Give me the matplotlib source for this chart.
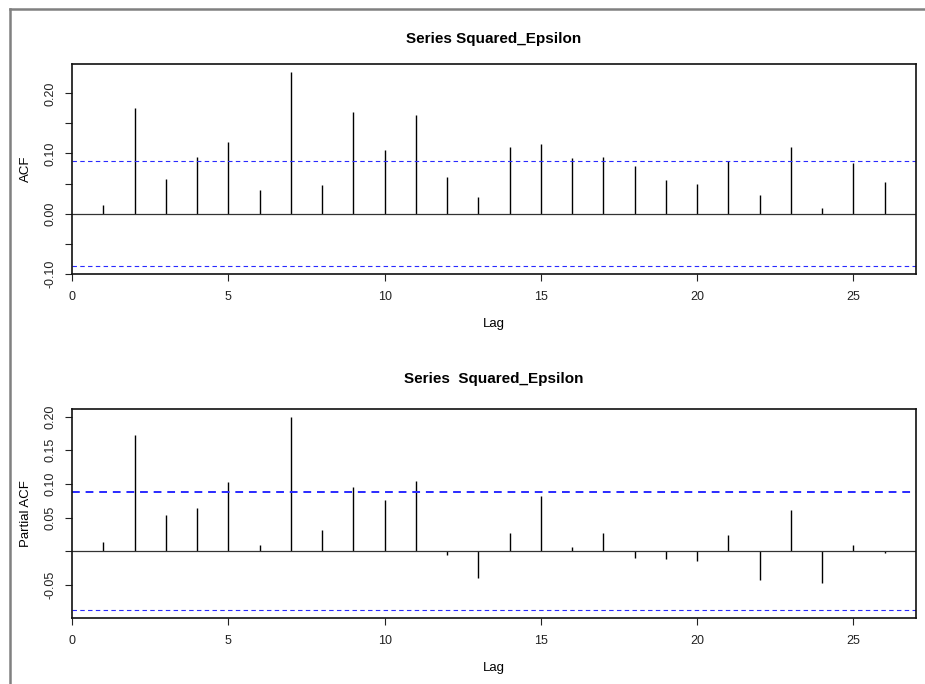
import numpy as np
import matplotlib
matplotlib.use('Agg')
import matplotlib.pyplot as plt
from matplotlib.lines import Line2D

plt.rcParams['font.family'] = ['Liberation Sans', 'DejaVu Sans']

# values
lags = list(range(1, 27))
acf_vals = [0.014, 0.176, 0.058, 0.094, 0.119, 0.039, 0.236, 0.048, 0.169, 0.106,
            0.164, 0.061, 0.028, 0.111, 0.116, 0.093, 0.094, 0.079, 0.056, 0.049,
            0.088, 0.031, 0.111, 0.009, 0.084, 0.052]
pacf_vals = [0.014, 0.173, 0.054, 0.065, 0.103, 0.009, 0.200, 0.031, 0.096, 0.076,
             0.105, -0.005, -0.039, 0.027, 0.082, 0.006, 0.027, -0.010, -0.012, -0.014,
             0.024, -0.042, 0.062, -0.047, 0.009, -0.003]
conf_bound = 0.0877

titles = ['Series Squared_Epsilon', 'Series  Squared_Epsilon']
ylabels = ['ACF', 'Partial ACF']
ytick_pos = [[-0.10, -0.05, 0.00, 0.05, 0.10, 0.15, 0.20],
             [-0.05, 0.00, 0.05, 0.10, 0.15, 0.20]]
ytick_lab = [['-0.10', '', '0.00', '', '0.10', '', '0.20'],
             ['-0.05', '', '0.05', '0.10', '0.15', '0.20']]
xtick_pos = [0, 5, 10, 15, 20, 25]

fig = plt.figure(figsize=(9.25, 6.84), dpi=100)

# axes rectangles in pixels: left, top, right, bottom
boxes = [(72, 64, 916, 274), (72, 409, 916, 618)]
W, H = 925, 684

for i, vals in enumerate([acf_vals, pacf_vals]):
    l, t, r, b = boxes[i]
    ax = fig.add_axes([l / W, 1 - b / H, (r - l) / W, (b - t) / H])
    # R style limits: 4% expansion
    lo = min(-conf_bound, min(vals))
    hi = max(conf_bound, max(vals))
    pad = (hi - lo) * 0.04
    ax.set_ylim(lo - pad, hi + pad)
    ax.set_xlim(0, 27)

    ax.vlines(lags, 0, vals, color='black', lw=1.0)
    ax.axhline(0, color='#333333', lw=0.9)
    up_lw = 0.8 if i == 0 else 1.4
    ax.axhline(conf_bound, color='#2a2aff', lw=up_lw, ls=(0, (4, 3)))
    ax.axhline(-conf_bound, color='#2a2aff', lw=0.8, ls=(0, (4, 3)))

    ax.set_xticks(xtick_pos)
    ax.set_yticks(ytick_pos[i])
    ax.set_yticklabels(ytick_lab[i], rotation=90, va='center')
    ax.tick_params(axis='both', length=5, width=0.8, labelsize=9,
                   colors='#222222')
    ax.tick_params(axis='y', pad=6)
    ax.tick_params(axis='x', pad=7)
    for s in ax.spines.values():
        s.set_linewidth(1.2)
        s.set_color('#111111')

    ax.set_title(titles[i], fontsize=11, fontweight='bold', pad=15 if i == 0 else 19)
    ax.set_xlabel('Lag', fontsize=9.5, labelpad=11)
    ax.set_ylabel(ylabels[i], fontsize=9.5, labelpad=9)

# gray frame of the screenshot
fig.add_artist(Line2D([10 / W, 10 / W], [0, 1 - 8.5 / H], transform=fig.transFigure,
                      color='#808080', lw=1.8))
fig.add_artist(Line2D([10 / W, 1], [1 - 8.5 / H, 1 - 8.5 / H], transform=fig.transFigure,
                      color='#808080', lw=1.8))

fig.savefig('out.png', dpi=100)
